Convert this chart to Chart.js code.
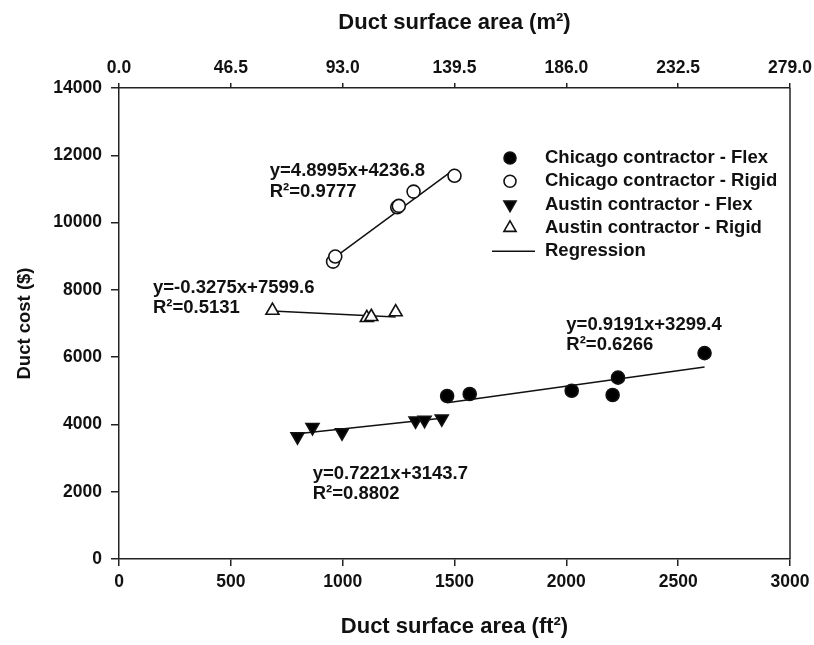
<!DOCTYPE html>
<html>
<head>
<meta charset="utf-8">
<script src="https://cdn.jsdelivr.net/npm/chart.js@4/dist/chart.umd.min.js"></script>
<style>
html, body { margin: 0; padding: 0; background: #fff; }
#wrap { width: 814px; height: 645px; }
</style>
</head>
<body>
<div id="wrap"><canvas id="grafico" width="814" height="645"></canvas></div>
<script>
// values (ft2 and $)
const chicagoFlexX = [1467, 1568, 2024, 2207, 2231, 2618]
const chicagoFlexY = [4845, 4905, 5000, 4875, 5390, 6120]
const chicagoRigidX = [957, 967, 1244, 1251, 1317, 1500]
const chicagoRigidY = [8840, 8990, 10455, 10495, 10920, 11390]
const austinFlexX = [798, 865, 997, 1326, 1366, 1443]
const austinFlexY = [3640, 3915, 3755, 4110, 4130, 4170]
const austinRigidX = [686, 1108, 1128, 1237]
const austinRigidY = [7385, 7170, 7200, 7340]

// regression from the equations printed on the figure
const slopes = [0.9191, 4.8995, 0.7221, -0.3275]
const intercepts = [3299.4, 4236.8, 3143.7, 7599.6]
const equationLabels = [
  ['y=0.9191x+3299.4', 'R\u00b2=0.6266'],
  ['y=4.8995x+4236.8', 'R\u00b2=0.9777'],
  ['y=0.7221x+3143.7', 'R\u00b2=0.8802'],
  ['y=-0.3275x+7599.6', 'R\u00b2=0.5131']
]
// where each equation starts (data units, first line)
const equationX = [2000, 674, 866, 152]
const equationY = [6960, 11530, 2540, 8070]

const seriesNames = ['Chicago contractor - Flex', 'Chicago contractor - Rigid', 'Austin contractor - Flex', 'Austin contractor - Rigid']
const bottomTicks = [0, 500, 1000, 1500, 2000, 2500, 3000]
const topTickLabels = ['0.0', '46.5', '93.0', '139.5', '186.0', '232.5', '279.0']
const yTicks = [0, 2000, 4000, 6000, 8000, 10000, 12000, 14000]

const todosX = [chicagoFlexX, chicagoRigidX, austinFlexX, austinRigidX]
const todosY = [chicagoFlexY, chicagoRigidY, austinFlexY, austinRigidY]

const estilos = [
  { pointStyle: 'circle', fill: '#000', radius: 6.5, rotation: 0 },
  { pointStyle: 'circle', fill: '#fff', radius: 6.5, rotation: 0 },
  { pointStyle: 'triangle', fill: '#000', radius: 7.5, rotation: 180 },
  { pointStyle: 'triangle', fill: '#fff', radius: 7.5, rotation: 0 }
]

const pontos = (xs, ys) => xs.map((x, i) => ({ x: x, y: ys[i] }))

let datasets = []
for (let i = 0; i < 4; i++) {
  const xs = todosX[i]
  const x0 = Math.min(...xs)
  const x1 = Math.max(...xs)
  datasets.push({
    label: 'Regression',
    data: [{ x: x0, y: slopes[i] * x0 + intercepts[i] }, { x: x1, y: slopes[i] * x1 + intercepts[i] }],
    showLine: true,
    borderColor: '#111',
    borderWidth: 1.5,
    pointRadius: 0,
    order: 2
  })
}
for (let i = 0; i < 4; i++) {
  datasets.push({
    label: seriesNames[i],
    data: pontos(todosX[i], todosY[i]),
    pointStyle: estilos[i].pointStyle,
    pointRadius: estilos[i].radius,
    pointRotation: estilos[i].rotation,
    pointBackgroundColor: estilos[i].fill,
    pointBorderColor: '#111',
    pointBorderWidth: 1.6,
    showLine: false,
    order: 1
  })
}

const fonte = 'Liberation Sans, Arial, sans-serif'
Chart.defaults.font.family = fonte
Chart.defaults.font.weight = 'bold'
Chart.defaults.color = '#111'

// right border, equations and legend
const extras = {
  id: 'extras',
  afterDraw(chart) {
    const ctx = chart.ctx
    const area = chart.chartArea
    const sx = chart.scales.x
    const sy = chart.scales.y
    ctx.save()
    ctx.strokeStyle = '#222'
    ctx.lineWidth = 1.5
    ctx.beginPath()
    ctx.moveTo(area.right, area.top)
    ctx.lineTo(area.right, area.bottom)
    ctx.stroke()

    ctx.fillStyle = '#111'
    ctx.font = 'bold 18.5px ' + fonte
    ctx.textBaseline = 'middle'
    ctx.textAlign = 'left'
    for (let i = 0; i < equationLabels.length; i++) {
      const px = sx.getPixelForValue(equationX[i])
      const py = sy.getPixelForValue(equationY[i])
      equationLabels[i].forEach((t, k) => ctx.fillText(t, px, py + k * 20.5))
    }

    // legend
    const lx = area.left + 391
    const ly = area.top + 70
    const passo = 23.3
    for (let i = 0; i < 4; i++) {
      const y = ly + i * passo
      ctx.fillStyle = estilos[i].fill
      ctx.strokeStyle = '#111'
      ctx.lineWidth = 1.6
      Chart.helpers.drawPoint(ctx, { pointStyle: estilos[i].pointStyle, radius: estilos[i].radius - 0.5, rotation: estilos[i].rotation, borderWidth: 1.6 }, lx, y)
      ctx.fillStyle = '#111'
      ctx.fillText(seriesNames[i], lx + 35, y)
    }
    const yr = ly + 4 * passo
    ctx.beginPath()
    ctx.lineWidth = 1.5
    ctx.moveTo(lx - 18, yr)
    ctx.lineTo(lx + 25, yr)
    ctx.stroke()
    ctx.fillText('Regression', lx + 35, yr)
    ctx.restore()
  }
}

new Chart(document.getElementById('grafico'), {
  type: 'scatter',
  data: { datasets: datasets },
  options: {
    responsive: false,
    animation: false,
    devicePixelRatio: 1,
    layout: { padding: { right: 24 } },
    plugins: { legend: { display: false }, tooltip: { enabled: false } },
    scales: {
      x: {
        type: 'linear',
        position: 'bottom',
        min: 0,
        max: 3000,
        afterBuildTicks: s => { s.ticks = bottomTicks.map(v => ({ value: v })) },
        afterFit: s => { s.height = 86; s.paddingRight = 0; s.paddingLeft = 0 },
        ticks: { font: { size: 17.5, weight: 'bold' }, padding: 6, maxRotation: 0, color: '#111', callback: v => String(v) },
        grid: { drawOnChartArea: false, tickLength: 7, color: '#222', lineWidth: 1.5 },
        border: { color: '#222', width: 1.5 },
        title: { display: true, text: 'Duct surface area (ft\u00b2)', font: { size: 22, weight: 'bold' }, padding: { top: 5, bottom: 5 }, color: '#111' }
      },
      x2: {
        type: 'linear',
        position: 'top',
        min: 0,
        max: 279,
        afterBuildTicks: s => { s.ticks = topTickLabels.map(t => ({ value: parseFloat(t) })) },
        afterFit: s => { s.height = 88; s.paddingRight = 0; s.paddingLeft = 0 },
        ticks: { font: { size: 17.5, weight: 'bold' }, padding: 4, maxRotation: 0, color: '#111', callback: (v, i) => topTickLabels[i] },
        grid: { drawOnChartArea: false, tickLength: 5, color: '#222', lineWidth: 1.5 },
        border: { color: '#222', width: 1.5 },
        title: { display: true, text: 'Duct surface area (m\u00b2)', font: { size: 22, weight: 'bold' }, padding: { top: 10, bottom: 10 }, color: '#111' }
      },
      y: {
        type: 'linear',
        position: 'left',
        min: 0,
        max: 14000,
        afterBuildTicks: s => { s.ticks = yTicks.map(v => ({ value: v })) },
        afterFit: s => { s.width = 119; s.paddingTop = 0; s.paddingBottom = 0 },
        ticks: { font: { size: 17.5, weight: 'bold' }, padding: 9, color: '#111', callback: v => String(v) },
        grid: { drawOnChartArea: false, tickLength: 8, color: '#222', lineWidth: 1.5 },
        border: { color: '#222', width: 1.5 },
        title: { display: true, text: 'Duct cost ($)', font: { size: 18.5, weight: 'bold' }, padding: { top: 14, bottom: 14 }, color: '#111' }
      }
    }
  },
  plugins: [extras]
})
</script>
</body>
</html>
